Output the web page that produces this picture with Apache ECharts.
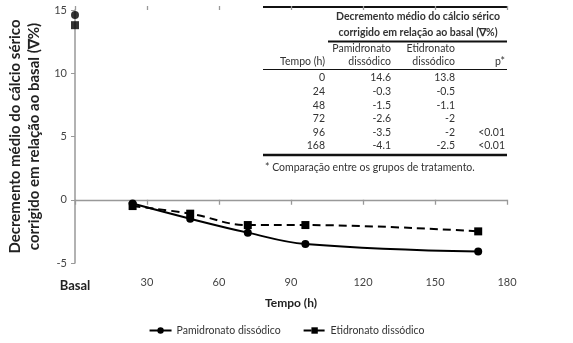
<!DOCTYPE html>
<html>
<head>
<meta charset="utf-8">
<script src="https://cdn.jsdelivr.net/npm/echarts@6/dist/echarts.min.js"></script>
<style>
html,body{margin:0;padding:0;background:#fff;}
#chart{width:573px;height:343px;}
</style>
</head>
<body>
<div id="chart"></div>
<script>
// ---- data ----
var times = [0, 24, 48, 72, 96, 168];
var pamidronato = [14.6, -0.3, -1.5, -2.6, -3.5, -4.1];
var etidronato = [13.8, -0.5, -1.1, -2, -2, -2.5];
var pValues = ['', '', '', '', '<0.01', '<0.01'];
var seriesNames = ['Pamidronato dissódico', 'Etidronato dissódico'];
var xTicks = [0, 30, 60, 90, 120, 150, 180];
var yTicks = [-5, 0, 5, 10, 15];
var tableTitle = ['Decremento médio do cálcio sérico', 'corrigido em relação ao basal (\u2207%)'];
var tableHead = [['', 'Tempo (h)'], ['Pamidronato', 'dissódico'], ['Etidronato', 'dissódico'], ['', 'p*']];
var footnote = '* Comparação entre os grupos de tratamento.';

var FONT = 'Lato';
function pts(vals) {
  return times.slice(1).map(function (t, i) { return [t, vals[i + 1]]; });
}

// ---- table as graphic ----
var g = [];
var TL = 263, TR = 507;
function rule(x1, y, x2, w) {
  g.push({type: 'line', shape: {x1: x1, y1: y, x2: x2, y2: y}, style: {stroke: '#111', lineWidth: w}, silent: true});
}
function txt(x, y, s, align, bold) {
  g.push({type: 'text', x: x, y: y, style: {text: s, fill: '#333', font: (bold ? 'bold ' : '') + '10.5px ' + FONT, textAlign: align, textVerticalAlign: 'middle'}, silent: true});
}
rule(TL, 7, TR, 2);
tableTitle.forEach(function (s, i) { txt(418, 17 + i * 16, s, 'center', true); });
rule(328, 41.5, TR, 2);
var colRight = [325, 391, 455, 505];
tableHead.forEach(function (h, c) {
  txt(colRight[c], 49, h[0], 'right', false);
  txt(colRight[c], 62, h[1], 'right', false);
});
rule(TL, 69.5, TR, 1);
times.forEach(function (t, r) {
  var y = 78 + r * 13.6;
  txt(colRight[0], y, String(t), 'right');
  txt(colRight[1], y, String(pamidronato[r]), 'right');
  txt(colRight[2], y, String(etidronato[r]), 'right');
  txt(colRight[3], y, pValues[r], 'right');
});
rule(TL, 155, TR, 2.5);
txt(265, 168, footnote, 'left', false);

var chart = echarts.init(document.getElementById('chart'), null, {renderer: 'canvas'});
var gridCommon = {type: 'value', min: xTicks[0], max: xTicks[xTicks.length - 1], interval: 30};
var option = {
  backgroundColor: '#fff',
  animation: false,
  textStyle: {fontFamily: FONT},
  grid: {left: 75, right: 66, top: 10, bottom: 80, outerBoundsMode: 'none', containLabel: false},
  legend: {
    data: seriesNames,
    bottom: 2,
    left: 'center',
    itemWidth: 22,
    itemHeight: 8,
    itemGap: 22,
    textStyle: {fontSize: 10.5, color: '#333', fontFamily: FONT}
  },
  xAxis: [
    Object.assign({}, gridCommon, {
      position: 'bottom',
      axisLine: {show: false, onZero: false},
      axisTick: {show: false},
      splitLine: {show: false},
      axisLabel: {
        margin: 14, fontSize: 11, color: '#444', fontFamily: FONT,
        formatter: function (v) { return v === 0 ? '{b|Basal}' : String(v); },
        rich: {b: {fontWeight: 'bold', fontSize: 13, color: '#222', fontFamily: FONT, padding: [2, 0, 0, 0]}}
      },
      name: 'Tempo (h)',
      nameLocation: 'middle',
      nameGap: 33,
      nameTextStyle: {fontWeight: 'bold', fontSize: 12, color: '#222', fontFamily: FONT}
    }),
    Object.assign({}, gridCommon, {
      axisLine: {show: true, onZero: true, lineStyle: {color: '#999', width: 1.3}},
      axisTick: {show: true, inside: true, length: 5, lineStyle: {color: '#999', width: 1.3}},
      axisLabel: {show: false},
      splitLine: {show: false}
    }),
    Object.assign({}, gridCommon, {
      axisLine: {show: false, onZero: true},
      axisTick: {show: true, inside: false, length: 4, lineStyle: {color: '#999', width: 1.3}},
      axisLabel: {show: false},
      splitLine: {show: false}
    })
  ],
  yAxis: {
    type: 'value', min: yTicks[0], max: yTicks[yTicks.length - 1], interval: 5,
    axisLine: {show: true, onZero: false, lineStyle: {color: '#999', width: 1.5}},
    axisTick: {show: true, length: 4, lineStyle: {color: '#999'}},
    splitLine: {show: false},
    axisLabel: {fontSize: 11, color: '#444', margin: 8, fontFamily: FONT},
    name: 'Decremento médio do cálcio sérico\ncorrigido em relação ao basal (\u2207%)',
    nameLocation: 'middle',
    nameGap: 27,
    nameTextStyle: {fontWeight: 'bold', fontSize: 15, color: '#222', fontFamily: FONT, lineHeight: 19}
  },
  graphic: g,
  series: [
    {
      name: seriesNames[0], type: 'line', xAxisIndex: 0, data: pts(pamidronato),
      smooth: 0.4, symbol: 'circle', symbolSize: 8,
      lineStyle: {color: '#000', width: 2}, itemStyle: {color: '#000'}
    },
    {
      name: seriesNames[1], type: 'line', xAxisIndex: 0, data: pts(etidronato),
      smooth: 0.4, symbol: 'rect', symbolSize: 8,
      lineStyle: {color: '#000', width: 2, type: [8, 5]}, itemStyle: {color: '#000'}
    },
    {
      name: 'basal1', type: 'scatter', data: [[times[0], pamidronato[0]]],
      symbol: 'circle', symbolSize: 8, itemStyle: {color: '#000'}
    },
    {
      name: 'basal2', type: 'scatter', data: [[times[0], etidronato[0]]],
      symbol: 'rect', symbolSize: 8, itemStyle: {color: '#000'}
    }
  ]
};
chart.setOption(option);
</script>
</body>
</html>
